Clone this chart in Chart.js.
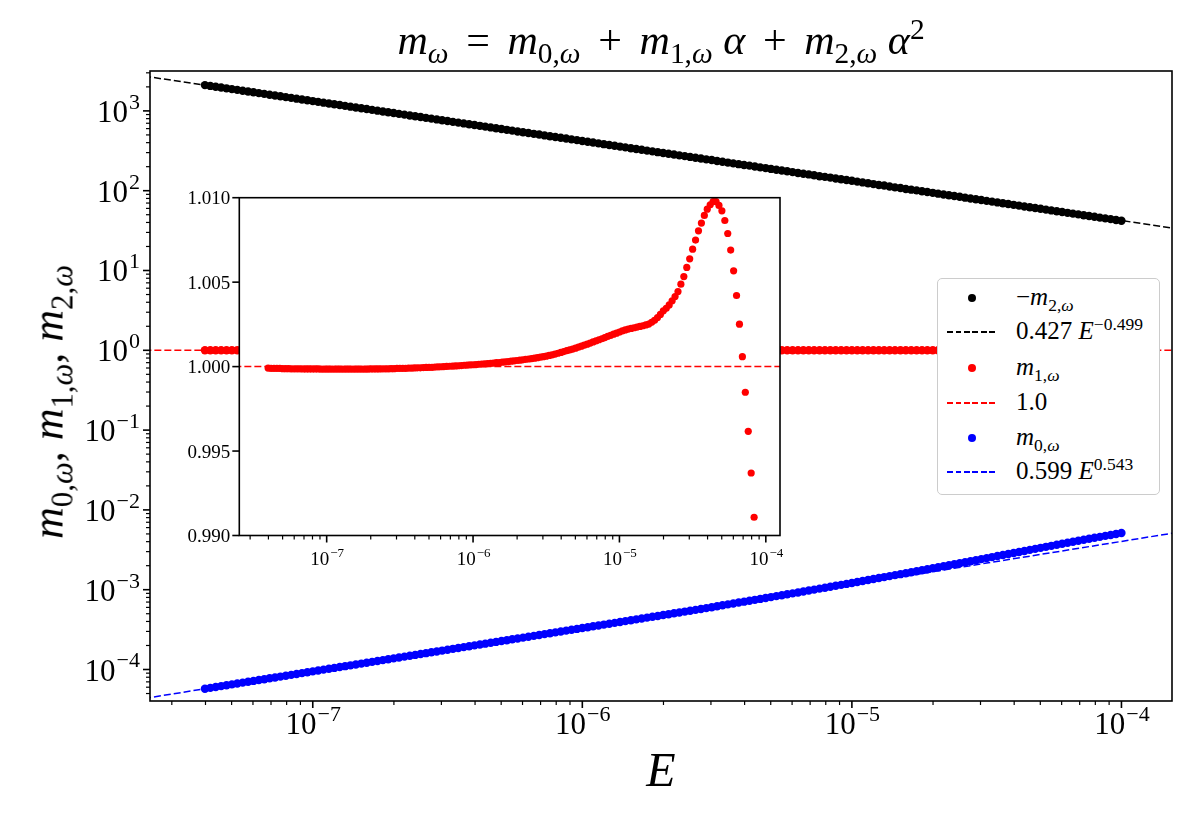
<!DOCTYPE html>
<html>
<head>
<meta charset="utf-8">
<script src="https://cdn.jsdelivr.net/npm/chart.js@4.4.1/dist/chart.umd.min.js"></script>
<style>
  body { margin: 0; background: #fff; }
  #wrap { position: relative; width: 1200px; height: 825px; font-family: "Liberation Serif", serif; color: #000; overflow: hidden; }
  #main { position: absolute; left: 0; top: 0; }
  #inset { position: absolute; left: 150px; top: 180px; }
  i { font-style: italic; }
  sub, sup { font-size: 70%; line-height: 0; }
  .op { margin: 0 0.42em; }
  .gap { margin-left: 0.25em; }
  #title { position: absolute; left: 661px; top: 16px; transform: translateX(-50%); font-size: 42px; white-space: nowrap; }
  #ylab { position: absolute; left: 48px; top: 402px; transform: translate(-50%, -50%) rotate(-90deg); font-size: 44px; white-space: nowrap; }
  #xlab { position: absolute; left: 661px; top: 742px; transform: translateX(-50%); font-size: 48px; }
  #legend { position: absolute; left: 937px; top: 278px; width: 221px; height: 215px; border: 1.5px solid #ccc; border-radius: 5px; background: #fff; }
  .row { position: absolute; left: 0; height: 30px; width: 221px; font-size: 25px; }
  .row .lbl { position: absolute; left: 78px; top: 0px; white-space: nowrap; }
  .dot { position: absolute; left: 30px; top: 11px; width: 8px; height: 8px; border-radius: 50%; }
  .dash { position: absolute; left: 9px; top: 14px; width: 51px; height: 1.6px; }
</style>
</head>
<body>
<div id="wrap">
  <canvas id="main" width="1200" height="825"></canvas>
  <canvas id="inset" width="650" height="400"></canvas>
  <div id="title"><i>m</i><sub><i>ω</i></sub><span class="op">=</span><i>m</i><sub>0,<i>ω</i></sub><span class="op">+</span><i>m</i><sub>1,<i>ω</i></sub><i class="gap">α</i><span class="op">+</span><i>m</i><sub>2,<i>ω</i></sub><i class="gap">α</i><sup>2</sup></div>
  <div id="ylab"><i>m</i><sub>0,<i>ω</i></sub>, <i>m</i><sub>1,<i>ω</i></sub>, <i>m</i><sub>2,<i>ω</i></sub></div>
  <div id="xlab"><i>E</i></div>
  <div id="legend">
    <div class="row" style="top:4px"><span class="dot" style="background:#000"></span><span class="lbl">−<i>m</i><sub>2,<i>ω</i></sub></span></div>
    <div class="row" style="top:38px"><span class="dash" style="background:repeating-linear-gradient(90deg,#000 0 6px,transparent 6px 8.5px)"></span><span class="lbl">0.427 <i>E</i><sup>−0.499</sup></span></div>
    <div class="row" style="top:74px"><span class="dot" style="background:#f00"></span><span class="lbl"><i>m</i><sub>1,<i>ω</i></sub></span></div>
    <div class="row" style="top:109px"><span class="dash" style="background:repeating-linear-gradient(90deg,#f00 0 6px,transparent 6px 8.5px)"></span><span class="lbl">1.0</span></div>
    <div class="row" style="top:144px"><span class="dot" style="background:#00f"></span><span class="lbl"><i>m</i><sub>0,<i>ω</i></sub></span></div>
    <div class="row" style="top:178px"><span class="dash" style="background:repeating-linear-gradient(90deg,#00f 0 6px,transparent 6px 8.5px)"></span><span class="lbl">0.599 <i>E</i><sup>0.543</sup></span></div>
  </div>
</div>
<script>
// sampled energies (log-spaced, 50 per decade)
const energy = [
  3.981e-8, 4.169e-8, 4.365e-8, 4.571e-8, 4.786e-8, 5.012e-8, 5.248e-8, 5.495e-8, 5.754e-8, 6.026e-8,
  6.310e-8, 6.607e-8, 6.918e-8, 7.244e-8, 7.586e-8, 7.943e-8, 8.318e-8, 8.710e-8, 9.120e-8, 9.550e-8,
  1.000e-7, 1.047e-7, 1.096e-7, 1.148e-7, 1.202e-7, 1.259e-7, 1.318e-7, 1.380e-7, 1.445e-7, 1.514e-7,
  1.585e-7, 1.660e-7, 1.738e-7, 1.820e-7, 1.905e-7, 1.995e-7, 2.089e-7, 2.188e-7, 2.291e-7, 2.399e-7,
  2.512e-7, 2.630e-7, 2.754e-7, 2.884e-7, 3.020e-7, 3.162e-7, 3.311e-7, 3.467e-7, 3.631e-7, 3.802e-7,
  3.981e-7, 4.169e-7, 4.365e-7, 4.571e-7, 4.786e-7, 5.012e-7, 5.248e-7, 5.495e-7, 5.754e-7, 6.026e-7,
  6.310e-7, 6.607e-7, 6.918e-7, 7.244e-7, 7.586e-7, 7.943e-7, 8.318e-7, 8.710e-7, 9.120e-7, 9.550e-7,
  1.000e-6, 1.047e-6, 1.096e-6, 1.148e-6, 1.202e-6, 1.259e-6, 1.318e-6, 1.380e-6, 1.445e-6, 1.514e-6,
  1.585e-6, 1.660e-6, 1.738e-6, 1.820e-6, 1.905e-6, 1.995e-6, 2.089e-6, 2.188e-6, 2.291e-6, 2.399e-6,
  2.512e-6, 2.630e-6, 2.754e-6, 2.884e-6, 3.020e-6, 3.162e-6, 3.311e-6, 3.467e-6, 3.631e-6, 3.802e-6,
  3.981e-6, 4.169e-6, 4.365e-6, 4.571e-6, 4.786e-6, 5.012e-6, 5.248e-6, 5.495e-6, 5.754e-6, 6.026e-6,
  6.310e-6, 6.607e-6, 6.918e-6, 7.244e-6, 7.586e-6, 7.943e-6, 8.318e-6, 8.710e-6, 9.120e-6, 9.550e-6,
  1.000e-5, 1.047e-5, 1.096e-5, 1.148e-5, 1.202e-5, 1.259e-5, 1.318e-5, 1.380e-5, 1.445e-5, 1.514e-5,
  1.585e-5, 1.660e-5, 1.738e-5, 1.820e-5, 1.905e-5, 1.995e-5, 2.089e-5, 2.188e-5, 2.291e-5, 2.399e-5,
  2.512e-5, 2.630e-5, 2.754e-5, 2.884e-5, 3.020e-5, 3.162e-5, 3.311e-5, 3.467e-5, 3.631e-5, 3.802e-5,
  3.981e-5, 4.169e-5, 4.365e-5, 4.571e-5, 4.786e-5, 5.012e-5, 5.248e-5, 5.495e-5, 5.754e-5, 6.026e-5,
  6.310e-5, 6.607e-5, 6.918e-5, 7.244e-5, 7.586e-5, 7.943e-5, 8.318e-5, 8.710e-5, 9.120e-5, 9.550e-5,
  1.000e-4
];

// -m_{2,w}
const negM2 = [
  2104, 2056, 2009, 1963, 1918, 1875, 1833, 1790, 1750, 1710, 1671, 1633, 1596, 1560, 1524, 1489, 1455,
  1423, 1390, 1358, 1327, 1297, 1268, 1239, 1211, 1183, 1156, 1130, 1104, 1079, 1054, 1030, 1007,
  984, 962, 940, 918, 898, 877, 857, 838, 818, 800, 782, 764, 746, 729, 713, 697, 681, 665, 650, 635,
  621, 607, 593, 579, 566, 553, 541, 528, 516, 505, 493, 482, 471, 460, 450, 440, 430, 420, 410, 401,
  392, 383, 374, 366, 357, 349, 341, 333, 326, 318, 311, 304, 297, 290, 284, 277, 271, 265, 259, 253,
  247, 242, 236, 231, 225, 220, 215, 210, 206, 201, 196, 192, 187.5, 183, 179, 175, 171, 167, 163, 160,
  156, 152, 149, 146, 142, 139, 136, 133, 130, 127, 124, 121, 118, 116, 113, 110, 108, 105, 103, 101,
  98.4, 96.2, 94.0, 91.8, 89.8, 87.7, 85.7, 83.8, 81.8, 80.0, 78.2, 76.4, 74.6, 72.9, 71.3, 69.7, 68.1,
  66.5, 65.0, 63.5, 62.1, 60.7, 59.3, 57.9, 56.6, 55.3, 54.1, 52.8, 51.6, 50.5, 49.3, 48.2, 47.1, 46.0,
  45.0, 44.0, 43.0, 42.0
];

// m_{1,w}
const m1 = [
  0.99991, 0.99990, 0.99990, 0.99989, 0.99989, 0.99988, 0.99988, 0.99988, 0.99987, 0.99987,
  0.99987, 0.99987, 0.99986, 0.99986, 0.99986, 0.99986, 0.99986, 0.99986, 0.99985, 0.99985,
  0.99985, 0.99985, 0.99985, 0.99985, 0.99985, 0.99985, 0.99985, 0.99985, 0.99985, 0.99985,
  0.99985, 0.99985, 0.99985, 0.99985, 0.99985, 0.99986, 0.99986, 0.99986, 0.99986, 0.99987,
  0.99987, 0.99987, 0.99988, 0.99988, 0.99989, 0.99989, 0.99990, 0.99990, 0.99991, 0.99991,
  0.99992, 0.99993, 0.99993, 0.99994, 0.99995, 0.99996, 0.99996, 0.99997, 0.99998, 0.99999,
  1.00000, 1.00001, 1.00002, 1.00003, 1.00004, 1.00005, 1.00006, 1.00008, 1.00009, 1.00010,
  1.00011, 1.00012, 1.00014, 1.00015, 1.00016, 1.00018, 1.00019, 1.00021, 1.00023, 1.00024,
  1.00026, 1.00028, 1.00030, 1.00032, 1.00034, 1.00036, 1.00038, 1.00040, 1.00043, 1.00045,
  1.00047, 1.00050, 1.00053, 1.00056, 1.00059, 1.00062, 1.00066, 1.00070, 1.00074, 1.00079,
  1.00084, 1.00089, 1.00094, 1.00099, 1.00104, 1.00109, 1.00115, 1.00121, 1.00127, 1.00133,
  1.00139, 1.00146, 1.00152, 1.00159, 1.00165, 1.00172, 1.00179, 1.00185, 1.00192, 1.00198,
  1.00205, 1.00211, 1.00217, 1.00222, 1.00226, 1.00230, 1.00234, 1.00238, 1.00242, 1.00247,
  1.00252, 1.00262, 1.00274, 1.00290, 1.00309, 1.00330, 1.00345, 1.00365, 1.00390, 1.00415,
  1.00444, 1.00488, 1.00533, 1.00587, 1.00638, 1.00695, 1.00749, 1.00804, 1.00850, 1.00895,
  1.00932, 1.00958, 1.00977, 1.00977, 1.00954, 1.00922, 1.00865, 1.00788, 1.00690, 1.00567,
  1.00421, 1.00251, 1.00059, 0.99848, 0.99617, 0.99370, 0.99108, 0.98830, 0.98530, 0.98210,
  0.97870
];

// m_{0,w}
const m0 = [
  5.744e-5, 5.889e-5, 6.039e-5, 6.192e-5, 6.348e-5, 6.510e-5, 6.675e-5, 6.843e-5, 7.016e-5, 7.193e-5,
  7.376e-5, 7.564e-5, 7.753e-5, 7.950e-5, 8.151e-5, 8.359e-5, 8.571e-5, 8.787e-5, 9.010e-5, 9.237e-5,
  9.472e-5, 9.712e-5, 9.957e-5,
  1.021e-4, 1.047e-4, 1.073e-4, 1.101e-4, 1.128e-4, 1.157e-4, 1.186e-4, 1.216e-4, 1.247e-4, 1.278e-4,
  1.311e-4, 1.344e-4, 1.378e-4, 1.414e-4, 1.449e-4, 1.486e-4, 1.523e-4, 1.562e-4, 1.602e-4, 1.642e-4,
  1.684e-4, 1.726e-4, 1.770e-4, 1.815e-4, 1.860e-4, 1.907e-4, 1.956e-4, 2.005e-4, 2.057e-4, 2.108e-4,
  2.162e-4, 2.217e-4, 2.273e-4, 2.330e-4, 2.389e-4, 2.450e-4, 2.511e-4, 2.575e-4, 2.641e-4, 2.708e-4,
  2.776e-4, 2.846e-4, 2.918e-4, 2.992e-4, 3.068e-4, 3.145e-4, 3.225e-4, 3.307e-4, 3.390e-4, 3.476e-4,
  3.565e-4, 3.655e-4, 3.747e-4, 3.842e-4, 3.939e-4, 4.040e-4, 4.141e-4, 4.247e-4, 4.354e-4, 4.464e-4,
  4.577e-4, 4.692e-4, 4.812e-4, 4.934e-4, 5.059e-4, 5.187e-4, 5.318e-4, 5.453e-4, 5.591e-4, 5.732e-4,
  5.877e-4, 6.026e-4, 6.208e-4, 6.375e-4, 6.544e-4, 6.719e-4, 6.898e-4, 7.082e-4, 7.273e-4, 7.467e-4,
  7.667e-4, 7.871e-4, 8.082e-4, 8.303e-4, 8.527e-4, 8.761e-4, 8.998e-4, 9.244e-4, 9.500e-4, 9.761e-4,
  1.003e-3, 1.031e-3, 1.060e-3, 1.089e-3, 1.119e-3, 1.150e-3, 1.182e-3, 1.214e-3, 1.249e-3, 1.285e-3,
  1.322e-3, 1.360e-3, 1.399e-3, 1.439e-3, 1.480e-3, 1.523e-3, 1.566e-3, 1.611e-3, 1.657e-3, 1.704e-3,
  1.753e-3, 1.803e-3, 1.855e-3, 1.910e-3, 1.966e-3, 2.025e-3, 2.084e-3, 2.146e-3, 2.211e-3, 2.277e-3,
  2.345e-3, 2.416e-3, 2.489e-3, 2.563e-3, 2.640e-3, 2.720e-3, 2.801e-3, 2.885e-3, 2.972e-3, 3.061e-3,
  3.153e-3, 3.248e-3, 3.346e-3, 3.445e-3, 3.546e-3, 3.652e-3, 3.759e-3, 3.871e-3, 3.984e-3, 4.100e-3,
  4.219e-3, 4.341e-3, 4.468e-3, 4.594e-3, 4.723e-3, 4.857e-3, 4.993e-3, 5.134e-3
];

// fitted power laws, ends of the dashed lines
const fitE = [2e-8, 2e-4];
const fitNegM2 = [2965, 29.9];
const fitM1 = [1.0, 1.0];
const fitM0 = [3.95e-5, 5.87e-3];

// tick labels
const mainXPow = [-7, -6, -5, -4];
const mainYPow = [-4, -3, -2, -1, 0, 1, 2, 3];
const insetXPow = [-7, -6, -5, -4];
const insetYTicks = [0.990, 0.995, 1.000, 1.005, 1.010];

const FONT = '"Liberation Serif", serif';
const pts = (xs, ys) => xs.map((x, i) => ({ x: x, y: ys[i] }));

function logTicks(min, max) {
  const out = [];
  for (let e = Math.floor(Math.log10(min)); e <= Math.ceil(Math.log10(max)); e++) {
    for (let j = 1; j < 10; j++) {
      const v = j * Math.pow(10, e);
      if (v >= min && v <= max) out.push({ v: v, major: j === 1 });
    }
  }
  return out;
}

// "10" with a raised exponent
function drawPow(ctx, p, x, y, size, align) {
  const sup = (p < 0 ? '\u2212' : '') + Math.abs(p);
  const small = Math.round(size * 0.7);
  ctx.font = size + 'px ' + FONT;
  const wb = ctx.measureText('10').width;
  ctx.font = small + 'px ' + FONT;
  const ws = ctx.measureText(sup).width;
  const x0 = align === 'center' ? x - (wb + ws) / 2 : x - wb - ws;
  ctx.textAlign = 'left';
  ctx.textBaseline = 'alphabetic';
  ctx.fillStyle = '#000';
  ctx.font = size + 'px ' + FONT;
  ctx.fillText('10', x0, y);
  ctx.font = small + 'px ' + FONT;
  ctx.fillText(sup, x0 + wb + 1, y - size * 0.42);
}

function frameAndTicks(chart, o) {
  const { ctx, chartArea: a, scales: { x, y } } = chart;
  ctx.save();
  ctx.strokeStyle = '#000';
  for (const t of logTicks(x.min, x.max)) {
    const px = x.getPixelForValue(t.v);
    ctx.lineWidth = t.major ? 1.6 : 1.2;
    ctx.beginPath();
    ctx.moveTo(px, a.bottom);
    ctx.lineTo(px, a.bottom + (t.major ? 7 : 4));
    ctx.stroke();
  }
  const yt = o.yLog ? logTicks(y.min, y.max) : o.yTicks.map(v => ({ v: v, major: true }));
  for (const t of yt) {
    const py = y.getPixelForValue(t.v);
    ctx.lineWidth = t.major ? 1.6 : 1.2;
    ctx.beginPath();
    ctx.moveTo(a.left, py);
    ctx.lineTo(a.left - (t.major ? 7 : 4), py);
    ctx.stroke();
  }
  ctx.lineWidth = 1.6;
  ctx.strokeRect(a.left, a.top, a.right - a.left, a.bottom - a.top);
  ctx.restore();
}

const mainDeco = {
  id: 'mainDeco',
  afterDraw(chart) {
    frameAndTicks(chart, { yLog: true });
    const { ctx, chartArea: a, scales: { x, y } } = chart;
    ctx.save();
    mainXPow.forEach(p => drawPow(ctx, p, x.getPixelForValue(Math.pow(10, p)), a.bottom + 33, 31, 'center'));
    mainYPow.forEach(p => drawPow(ctx, p, a.left - 11, y.getPixelForValue(Math.pow(10, p)) + 11, 31, 'right'));
    ctx.restore();
  }
};

const insetDeco = {
  id: 'insetDeco',
  beforeDraw(chart) {
    const { ctx, chartArea: a } = chart;
    ctx.save();
    ctx.fillStyle = '#fff';
    ctx.fillRect(a.left, a.top, a.right - a.left, a.bottom - a.top);
    ctx.restore();
  },
  afterDraw(chart) {
    frameAndTicks(chart, { yLog: false, yTicks: insetYTicks });
    const { ctx, chartArea: a, scales: { x, y } } = chart;
    ctx.save();
    insetXPow.forEach(p => drawPow(ctx, p, x.getPixelForValue(Math.pow(10, p)), a.bottom + 29, 19, 'center'));
    ctx.font = '19px ' + FONT;
    ctx.fillStyle = '#000';
    ctx.textAlign = 'right';
    ctx.textBaseline = 'alphabetic';
    insetYTicks.forEach(v => ctx.fillText(v.toFixed(3), a.left - 9, y.getPixelForValue(v) + 6.5));
    ctx.restore();
  }
};

function dots(data, color, order, r) {
  return { data: data, backgroundColor: color, borderWidth: 0, pointRadius: r, pointHoverRadius: r, order: order };
}
function dashed(data, color, order) {
  return { data: data, showLine: true, borderColor: color, borderWidth: 1.5, borderDash: [7, 3], pointRadius: 0, pointHoverRadius: 0, order: order };
}
const hiddenAxis = (min, max, type, isX) => ({
  type: type, min: min, max: max,
  ticks: { display: false }, grid: { display: false }, border: { display: false },
  afterFit: s => { if (isX) s.height = 0; else s.width = 0; }
});

new Chart(document.getElementById('main'), {
  type: 'scatter',
  data: {
    datasets: [
      dots(pts(energy, negM2), '#000000', 6, 4.2),
      dashed(pts(fitE, fitNegM2), '#000000', 5),
      dots(pts(energy, m1), '#ff0000', 4, 4.2),
      dashed(pts(fitE, fitM1), '#ff0000', 3),
      dots(pts(energy, m0), '#0000ff', 2, 4.2),
      dashed(pts(fitE, fitM0), '#0000ff', 1)
    ]
  },
  options: {
    responsive: false,
    animation: false,
    events: [],
    layout: { padding: { left: 150, top: 71, right: 28, bottom: 124 } },
    plugins: { legend: { display: false }, tooltip: { enabled: false } },
    scales: {
      x: hiddenAxis(2.49e-8, 1.54e-4, 'logarithmic', true),
      y: hiddenAxis(4.03e-5, 3162, 'logarithmic', false)
    }
  },
  plugins: [mainDeco]
});

new Chart(document.getElementById('inset'), {
  type: 'scatter',
  data: {
    datasets: [
      dots(pts(energy, m1), '#ff0000', 2, 3.6),
      dashed(pts(fitE, fitM1), '#ff0000', 1)
    ]
  },
  options: {
    responsive: false,
    animation: false,
    events: [],
    layout: { padding: { left: 89.3, top: 17.7, right: 20, bottom: 44.5 } },
    plugins: { legend: { display: false }, tooltip: { enabled: false } },
    scales: {
      x: hiddenAxis(2.53e-8, 1.25e-4, 'logarithmic', true),
      y: hiddenAxis(0.99, 1.01, 'linear', false)
    }
  },
  plugins: [insetDeco]
});
</script>
</body>
</html>
